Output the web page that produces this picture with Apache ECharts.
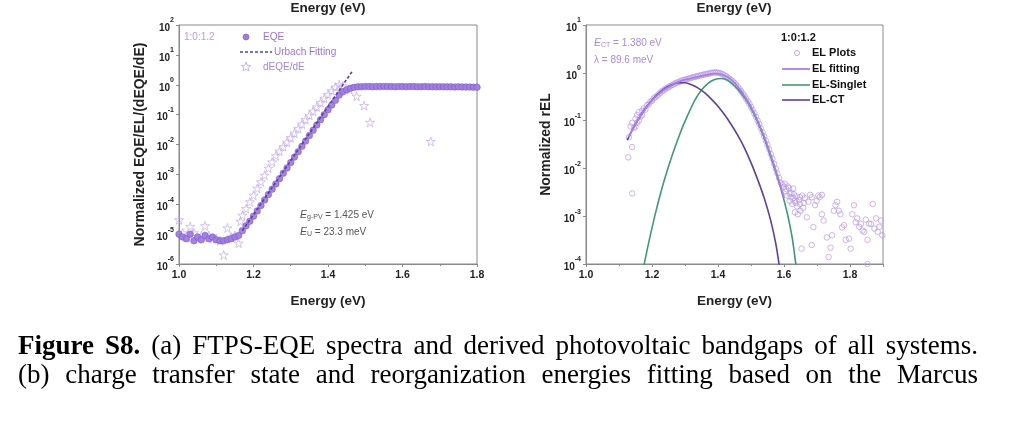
<!DOCTYPE html>
<html><head><meta charset="utf-8">
<script src="https://cdn.jsdelivr.net/npm/echarts@6/dist/echarts.min.js"></script>
<style>html,body{margin:0;padding:0;background:#fff;}#c{width:1024px;height:429px;}</style>
</head><body><div id="c"></div>
<script>
// ---------- Panel (a) data ----------
const eqeData = [
 [1.00,1.0e-5],[1.01,8e-6],[1.02,7e-6],[1.03,1.0e-5],[1.04,6e-6],[1.05,8e-6],[1.06,6.5e-6],[1.07,9e-6],
 [1.08,7e-6],[1.09,8e-6],[1.10,6.5e-6],[1.11,6e-6],[1.12,6e-6],[1.13,6.5e-6],[1.14,7e-6],[1.15,8e-6],
 [1.16,9e-6],[1.17,1.3e-5],[1.18,1.9e-5],[1.19,2.7e-5],[1.20,4.0e-5],[1.21,6e-5],[1.22,9e-5],[1.23,1.4e-4],
 [1.24,2.1e-4],[1.25,3.2e-4],[1.26,4.8e-4],[1.27,7.2e-4],[1.28,1.1e-3],[1.29,1.65e-3],[1.30,2.5e-3],[1.31,3.8e-3],
 [1.32,5.7e-3],[1.33,8.7e-3],[1.34,1.3e-2],[1.35,2.0e-2],[1.36,3.0e-2],[1.37,4.5e-2],[1.38,6.8e-2],[1.39,0.10],
 [1.40,0.145],[1.41,0.21],[1.42,0.30],[1.43,0.45],[1.44,0.58],[1.45,0.68],[1.46,0.77],[1.47,0.82],[1.48,0.85],
 [1.49,0.86],[1.50,0.87],[1.51,0.87],[1.52,0.86],[1.53,0.87],[1.54,0.87],[1.55,0.88],[1.56,0.87],[1.57,0.87],
 [1.58,0.86],[1.59,0.87],[1.60,0.87],[1.61,0.86],[1.62,0.87],[1.63,0.87],[1.64,0.86],[1.65,0.86],[1.66,0.87],
 [1.67,0.86],[1.68,0.86],[1.69,0.85],[1.70,0.86],[1.71,0.85],[1.72,0.85],[1.73,0.85],[1.74,0.84],[1.75,0.85],
 [1.76,0.84],[1.77,0.84],[1.78,0.84],[1.79,0.83],[1.80,0.83]
];
const dEqeData = [
 [1.00,3e-5],[1.01,1.1e-5],[1.02,8e-6],[1.03,1.8e-5],[1.04,1.1e-5],[1.05,7e-6],[1.06,9e-6],[1.07,1.9e-5],
 [1.08,9e-6],[1.09,7e-6],[1.10,7e-6],[1.11,6e-6],[1.12,2e-6],[1.13,1.6e-5],[1.14,8e-6],[1.15,9e-6],[1.16,5e-6],
 [1.165,2.7e-5],[1.17,4.3e-5],[1.18,7.1e-5],[1.19,1.2e-4],[1.20,2.0e-4],[1.21,3.4e-4],[1.22,5.6e-4],[1.23,9.3e-4],
 [1.24,1.6e-3],[1.25,2.6e-3],[1.26,4.2e-3],[1.27,6.0e-3],[1.28,8.5e-3],[1.29,1.2e-2],[1.30,1.7e-2],[1.31,2.4e-2],
 [1.32,3.4e-2],[1.33,4.8e-2],[1.34,6.8e-2],[1.35,9.5e-2],[1.36,0.13],[1.37,0.18],[1.38,0.25],[1.39,0.35],
 [1.40,0.47],[1.41,0.63],[1.42,0.83],[1.43,1.0],[1.44,0.91],[1.458,0.68],[1.477,0.41],[1.497,0.20],[1.513,0.055],
 [1.676,0.0126]
];
const urbachFit = [[1.17,1.3e-5],[1.465,2.8]];

// ---------- Panel (b) data ----------
const elPlots = [
 [1.13,0.045],[1.128,0.017],[1.135,0.075],[1.14,0.0030],[1.14,0.028],[1.14,0.09],[1.145,0.07],[1.15,0.11],
 [1.15,0.075],[1.155,0.13],[1.155,0.09],[1.16,0.10],[1.16,0.15],[1.165,0.12],[1.17,0.16],[1.17,0.13],[1.175,0.18],
 [1.18,0.17],[1.185,0.21],[1.19,0.22],[1.195,0.25],[1.20,0.26],[1.205,0.29],[1.21,0.31],[1.215,0.33],[1.22,0.35],
 [1.225,0.38],[1.23,0.41],[1.235,0.43],[1.24,0.46],[1.245,0.48],[1.25,0.50],[1.255,0.53],[1.26,0.55],[1.265,0.57],
 [1.27,0.60],[1.275,0.62],[1.28,0.64],[1.285,0.66],[1.29,0.69],[1.295,0.70],[1.30,0.72],[1.305,0.74],[1.31,0.75],
 [1.315,0.77],[1.32,0.79],[1.325,0.81],[1.33,0.82],[1.335,0.84],[1.34,0.86],[1.345,0.88],[1.35,0.89],[1.355,0.91],
 [1.36,0.93],[1.365,0.94],[1.37,0.96],[1.375,0.97],[1.38,1.00],[1.385,1.01],[1.39,1.02],[1.395,1.02],[1.40,1.00],
 [1.405,0.99],[1.41,0.96],[1.415,0.93],[1.42,0.89],[1.425,0.85],[1.43,0.80],[1.435,0.75],[1.44,0.71],[1.445,0.66],
 [1.45,0.61],[1.455,0.56],[1.46,0.51],[1.465,0.46],[1.47,0.415],[1.475,0.37],[1.48,0.33],[1.485,0.29],[1.49,0.257],
 [1.495,0.225],[1.50,0.195],[1.505,0.168],[1.51,0.142],[1.515,0.12],[1.52,0.10],[1.525,0.085],[1.53,0.069],
 [1.535,0.057],[1.54,0.047],[1.545,0.038],[1.55,0.031],[1.555,0.025],[1.56,0.020],[1.565,0.016],[1.57,0.0125],
 [1.575,0.0098],[1.58,0.0078],[1.585,0.0063],[1.59,0.0050],[1.595,0.0046],[1.60,0.0041],
 [1.602,0.0048],[1.605,0.0033],[1.607,0.0037],[1.61,0.0027],[1.612,0.0042],[1.615,0.0039],[1.617,0.0030],
 [1.617,0.0021],[1.62,0.0025],[1.622,0.0030],[1.625,0.0018],[1.628,0.0038],[1.628,0.0024],[1.63,0.0029],
 [1.633,0.0021],[1.633,0.0012],[1.635,0.0019],[1.638,0.0026],[1.64,0.0016],[1.642,0.0011],[1.645,0.0022],
 [1.648,0.0025],[1.648,0.0018],[1.65,0.0013],[1.653,0.00021],[1.655,0.0027],[1.658,0.0015],[1.66,0.0019],
 [1.663,0.0024],[1.669,0.00095],[1.674,0.0020],[1.679,0.0028],[1.684,0.0025],[1.684,0.00025],[1.689,0.00059],
 [1.694,0.0017],[1.699,0.0021],[1.704,0.0027],[1.708,0.0025],[1.715,0.0028],[1.715,0.0011],[1.72,0.00081],
 [1.73,0.00036],[1.735,0.00014],[1.741,0.00022],[1.746,0.0004],[1.751,0.0013],[1.756,0.0017],[1.761,0.0020],
 [1.766,0.0013],[1.771,0.0011],[1.776,0.00058],[1.782,0.00065],[1.787,0.00032],[1.797,0.00034],[1.802,0.00021],
 [1.807,0.0011],[1.812,0.0017],[1.817,0.00075],[1.822,0.0009],[1.828,0.0006],[1.833,0.00069],[1.838,0.0005],
 [1.843,0.00047],[1.848,0.00085],[1.853,0.00032],[1.853,0.0001],[1.858,0.0007],[1.864,0.00069],[1.869,0.0018],
 [1.874,0.00055],[1.879,0.0009],[1.884,0.00047],[1.889,0.0006],[1.894,0.00081],[1.898,0.0004]
];
const elFitting = [
 [1.13,0.045],[1.14,0.063],[1.15,0.085],[1.16,0.11],[1.17,0.141],[1.18,0.178],[1.19,0.219],[1.20,0.263],
 [1.21,0.309],[1.22,0.355],[1.23,0.407],[1.24,0.457],[1.25,0.50],[1.26,0.55],[1.27,0.60],[1.28,0.645],
 [1.29,0.69],[1.30,0.724],[1.31,0.74],[1.32,0.77],[1.33,0.80],[1.34,0.83],[1.35,0.86],[1.36,0.89],[1.37,0.92],
 [1.38,0.95],[1.39,0.96],[1.40,0.96],[1.41,0.93],[1.42,0.88],[1.43,0.81],[1.44,0.72],[1.45,0.62],[1.46,0.51],
 [1.47,0.42],[1.48,0.33],[1.49,0.257],[1.50,0.195],[1.51,0.141],[1.52,0.10],[1.53,0.069],[1.54,0.047],
 [1.55,0.030],[1.56,0.019],[1.57,0.0117],[1.58,0.0071],[1.59,0.0042],[1.60,0.0024]
];
const elSinglet = [
 [1.175,0.000089],[1.19,0.00028],[1.21,0.00112],[1.23,0.0038],[1.25,0.011],[1.27,0.028],[1.29,0.066],
 [1.31,0.138],[1.33,0.269],[1.35,0.437],[1.37,0.603],[1.39,0.724],[1.41,0.759],[1.43,0.692],[1.45,0.537],
 [1.47,0.38],[1.49,0.24],[1.51,0.132],[1.53,0.0646],[1.55,0.0275],[1.57,0.0107],[1.59,0.0039],[1.61,0.00115],
 [1.625,0.00035],[1.635,0.00011],[1.645,0.00004]
];
const elCT = [
 [1.125,0.039],[1.14,0.063],[1.16,0.11],[1.18,0.182],[1.20,0.269],[1.22,0.372],[1.24,0.479],[1.26,0.562],
 [1.28,0.617],[1.30,0.617],[1.32,0.562],[1.34,0.479],[1.36,0.38],[1.38,0.282],[1.40,0.2],[1.42,0.132],
 [1.44,0.083],[1.46,0.049],[1.48,0.027],[1.50,0.0132],[1.52,0.0059],[1.54,0.0024],[1.56,0.0008],
 [1.575,0.00027],[1.585,0.0001],[1.595,0.00004]
];

const captionLine1 = [['Figure',true],['S8.',true],['(a)',false],['FTPS-EQE',false],['spectra',false],['and',false],
 ['derived',false],['photovoltaic',false],['bandgaps',false],['of',false],['all',false],['systems.',false]];
const captionLine2 = ['(b)','charge','transfer','state','and','reorganization','energies','fitting','based','on','the','Marcus'];

// ---------- styles ----------
const AX = '#8a8a8a';
const SANS = 'Liberation Sans, Arial, sans-serif';
const STAR = 'path://M50,2 L61,37 L98,37 L68,59 L79,94 L50,72 L21,94 L32,59 L2,37 L39,37 Z';

function yLabel(v){
  const e = Math.round(Math.log10(v));
  return '{b|10}{s|' + e + '}';
}
const yRich = {
  b:{fontSize:10,fontWeight:'bold',color:'#222',fontFamily:SANS,lineHeight:16,verticalAlign:'bottom'},
  s:{fontSize:7,fontWeight:'bold',color:'#222',fontFamily:SANS,lineHeight:8,verticalAlign:'top'}
};
function xAxisCfg(grid,min,max){
  return {type:'value',gridIndex:grid,min:min,max:max,interval:0.2,
    name:'Energy (eV)',nameLocation:'middle',nameGap:30,nameMoveOverlap:false,
    nameTextStyle:{fontSize:13.5,fontWeight:'bold',color:'#222',fontFamily:SANS},
    axisLine:{lineStyle:{color:AX,width:1}},
    axisTick:{length:3,lineStyle:{color:AX}},
    minorTick:{show:true,splitNumber:2,length:2,lineStyle:{color:AX}},
    splitLine:{show:false},
    axisLabel:{margin:6,fontSize:10.5,fontWeight:'bold',color:'#222',fontFamily:SANS,
      showMaxLabel: max===1.8,
      formatter:v=>v.toFixed(1)}};
}
function yAxisCfg(grid,min,max,name,gap,split){
  return {type:'log',logBase:10,gridIndex:grid,min:min,max:max,splitNumber:split,
    name:name,nameLocation:'middle',nameGap:gap,nameMoveOverlap:false,
    nameTextStyle:{fontSize:14,fontWeight:'bold',color:'#222',fontFamily:SANS},
    axisLine:{show:true,lineStyle:{color:AX,width:1}},
    axisTick:{show:true,length:3,lineStyle:{color:AX}},
    splitLine:{show:false},
    axisLabel:{margin:5,formatter:yLabel,rich:yRich}};
}

// ---------- caption (justified) ----------
const ctx = document.createElement('canvas').getContext('2d');
const SERIF = '"Liberation Serif", "Times New Roman", serif';
const CAP_SIZE = 27;
function justify(words, yMid, x0, x1){
  const ws = words.map(w=>{ctx.font=(w[1]?'bold ':'')+CAP_SIZE+'px '+SERIF;return ctx.measureText(w[0]).width;});
  const tot = ws.reduce((a,b)=>a+b,0);
  const gap = (x1-x0-tot)/(words.length-1);
  let x = x0; const out=[];
  words.forEach((w,i)=>{
    out.push({type:'text',x:x,y:yMid,silent:true,style:{text:w[0],fill:'#000',
      font:(w[1]?'bold ':'')+CAP_SIZE+'px '+SERIF,align:'left',verticalAlign:'middle'}});
    x += ws[i]+gap;
  });
  return out;
}

function txt(x,y,text,opt){
  return {type:'text',x:x,y:y,silent:true,style:Object.assign({text:text,fill:'#222',
    font:'bold 11px '+SANS,align:'left',verticalAlign:'middle'},opt||{})};
}
function richTxt(x,y,text,rich,color){
  return {type:'text',x:x,y:y,silent:true,style:{text:text,rich:rich,fill:color,fontFamily:SANS,fontSize:10,
    align:'left',verticalAlign:'middle'}};
}
function starPoints(cx,cy,r){
  const pts=[];
  for(let k=0;k<10;k++){
    const rr = k%2===0 ? r : r*0.42;
    const a = -Math.PI/2 + k*Math.PI/5;
    pts.push([cx+rr*Math.cos(a), cy+rr*Math.sin(a)]);
  }
  return pts;
}

const purple = '#9b72d8';
const annRichA = {
  i:{fontStyle:'italic',fontSize:10.5,fontFamily:SANS,color:'#555'},
  sub:{fontSize:7,fontFamily:SANS,color:'#555',verticalAlign:'bottom',lineHeight:10,padding:[4,0,0,0]},
  n:{fontSize:10,fontFamily:SANS,color:'#555'}
};
const annRichB = {
  i:{fontStyle:'italic',fontSize:10.5,fontFamily:SANS,color:'#a98ae0'},
  sub:{fontSize:7,fontFamily:SANS,color:'#a98ae0',verticalAlign:'bottom',lineHeight:10,padding:[4,0,0,0]},
  n:{fontSize:10,fontFamily:SANS,color:'#a98ae0'}
};

const graphics = [
  txt(328,8,'Energy (eV)',{font:'bold 13.5px '+SANS,align:'center'}),
  txt(734,8,'Energy (eV)',{font:'bold 13.5px '+SANS,align:'center'}),
  // panel a legend
  txt(184,37,'1:0:1.2',{font:'10px '+SANS,fill:'#b99be6'}),
  {type:'circle',silent:true,shape:{cx:246,cy:37,r:3},style:{fill:'#a07ce0',stroke:'#7b56c2',lineWidth:0.6}},
  txt(263,37,'EQE',{font:'10px '+SANS,fill:purple}),
  {type:'line',silent:true,shape:{x1:240,y1:52,x2:272,y2:52},style:{stroke:'#5e3f96',lineWidth:1.6,lineDash:[3,2]}},
  txt(274,52,'Urbach Fitting',{font:'10px '+SANS,fill:purple}),
  {type:'polygon',silent:true,shape:{points:starPoints(246,67,5)},style:{fill:'rgba(255,255,255,0)',stroke:'#c2a9ee',lineWidth:0.9}},
  txt(263,67,'dEQE/dE',{font:'10px '+SANS,fill:'#a586e0'}),
  richTxt(300,215,'{i|E}{sub|g-PV}{n| = 1.425 eV}',annRichA,'#555'),
  richTxt(300,232,'{i|E}{sub|U}{n| = 23.3 meV}',annRichA,'#555'),
  // panel b legend
  txt(781,38,'1:0:1.2',{font:'bold 11px '+SANS,fill:'#111'}),
  {type:'circle',silent:true,shape:{cx:797,cy:53,r:2.5},style:{fill:'rgba(255,255,255,0)',stroke:'#b898e6',lineWidth:0.9}},
  txt(812,53,'EL Plots',{font:'bold 11px '+SANS,fill:'#111'}),
  {type:'line',silent:true,shape:{x1:782,y1:69,x2:810,y2:69},style:{stroke:'#a87ee6',lineWidth:1.8}},
  txt(812,69,'EL fitting',{font:'bold 11px '+SANS,fill:'#111'}),
  {type:'line',silent:true,shape:{x1:782,y1:85,x2:810,y2:85},style:{stroke:'#3f9a72',lineWidth:1.6}},
  txt(812,85,'EL-Singlet',{font:'bold 11px '+SANS,fill:'#111'}),
  {type:'line',silent:true,shape:{x1:782,y1:100,x2:810,y2:100},style:{stroke:'#5d3f9e',lineWidth:1.6}},
  txt(812,100,'EL-CT',{font:'bold 11px '+SANS,fill:'#111'}),
  richTxt(594,43,'{i|E}{sub|CT}{n| = 1.380 eV}',annRichB,'#a98ae0'),
  richTxt(594,60,'{n|λ = 89.6 meV}',annRichB,'#a98ae0')
].concat(justify(captionLine1,347,18,978), justify(captionLine2.map(w=>[w,false]),376,18,978));

const option = {
  animation:false,
  backgroundColor:'#fff',
  grid:[
    {left:179,top:25,width:298,height:239,show:true,borderColor:AX,borderWidth:1,containLabel:false},
    {left:586,top:25,width:297,height:239,show:true,borderColor:AX,borderWidth:1,containLabel:false}
  ],
  xAxis:[xAxisCfg(0,1.0,1.8), xAxisCfg(1,1.0,1.9)],
  yAxis:[yAxisCfg(0,1e-6,1e2,'Normalized EQE/EL/(dEQE/dE)',32,8), yAxisCfg(1,1e-4,1e1,'Normalized rEL',33,5)],
  series:[
    {type:'scatter',name:'dEQE/dE',xAxisIndex:0,yAxisIndex:0,data:dEqeData,symbol:STAR,symbolSize:9,
      itemStyle:{color:'rgba(255,255,255,0)',borderColor:'#c2a9ee',borderWidth:0.9}},
    {type:'scatter',name:'EQE',xAxisIndex:0,yAxisIndex:0,data:eqeData,symbol:'circle',symbolSize:6.5,
      itemStyle:{color:'#a07ce0',borderColor:'#7b56c2',borderWidth:0.6,opacity:0.95}},
    {type:'line',name:'Urbach Fitting',xAxisIndex:0,yAxisIndex:0,data:urbachFit,symbol:'none',
      lineStyle:{color:'#5e3f96',width:1.6,type:[3,2]}},
    {type:'line',name:'EL-Singlet',xAxisIndex:1,yAxisIndex:1,data:elSinglet,symbol:'none',smooth:0.3,
      lineStyle:{color:'#3f9a72',width:1.6}},
    {type:'line',name:'EL-CT',xAxisIndex:1,yAxisIndex:1,data:elCT,symbol:'none',smooth:0.3,
      lineStyle:{color:'#5d3f9e',width:1.6}},
    {type:'scatter',name:'EL Plots',xAxisIndex:1,yAxisIndex:1,data:elPlots,symbol:'circle',symbolSize:5.5,
      itemStyle:{color:'rgba(255,255,255,0)',borderColor:'#b898e6',borderWidth:0.9}},
    {type:'line',name:'EL fitting',xAxisIndex:1,yAxisIndex:1,data:elFitting,symbol:'none',smooth:0.3,
      lineStyle:{color:'#a87ee6',width:1.8}}
  ],
  graphic:graphics
};
const chart = echarts.init(document.getElementById('c'),null,{renderer:'canvas'});
chart.setOption(option);
</script></body></html>
